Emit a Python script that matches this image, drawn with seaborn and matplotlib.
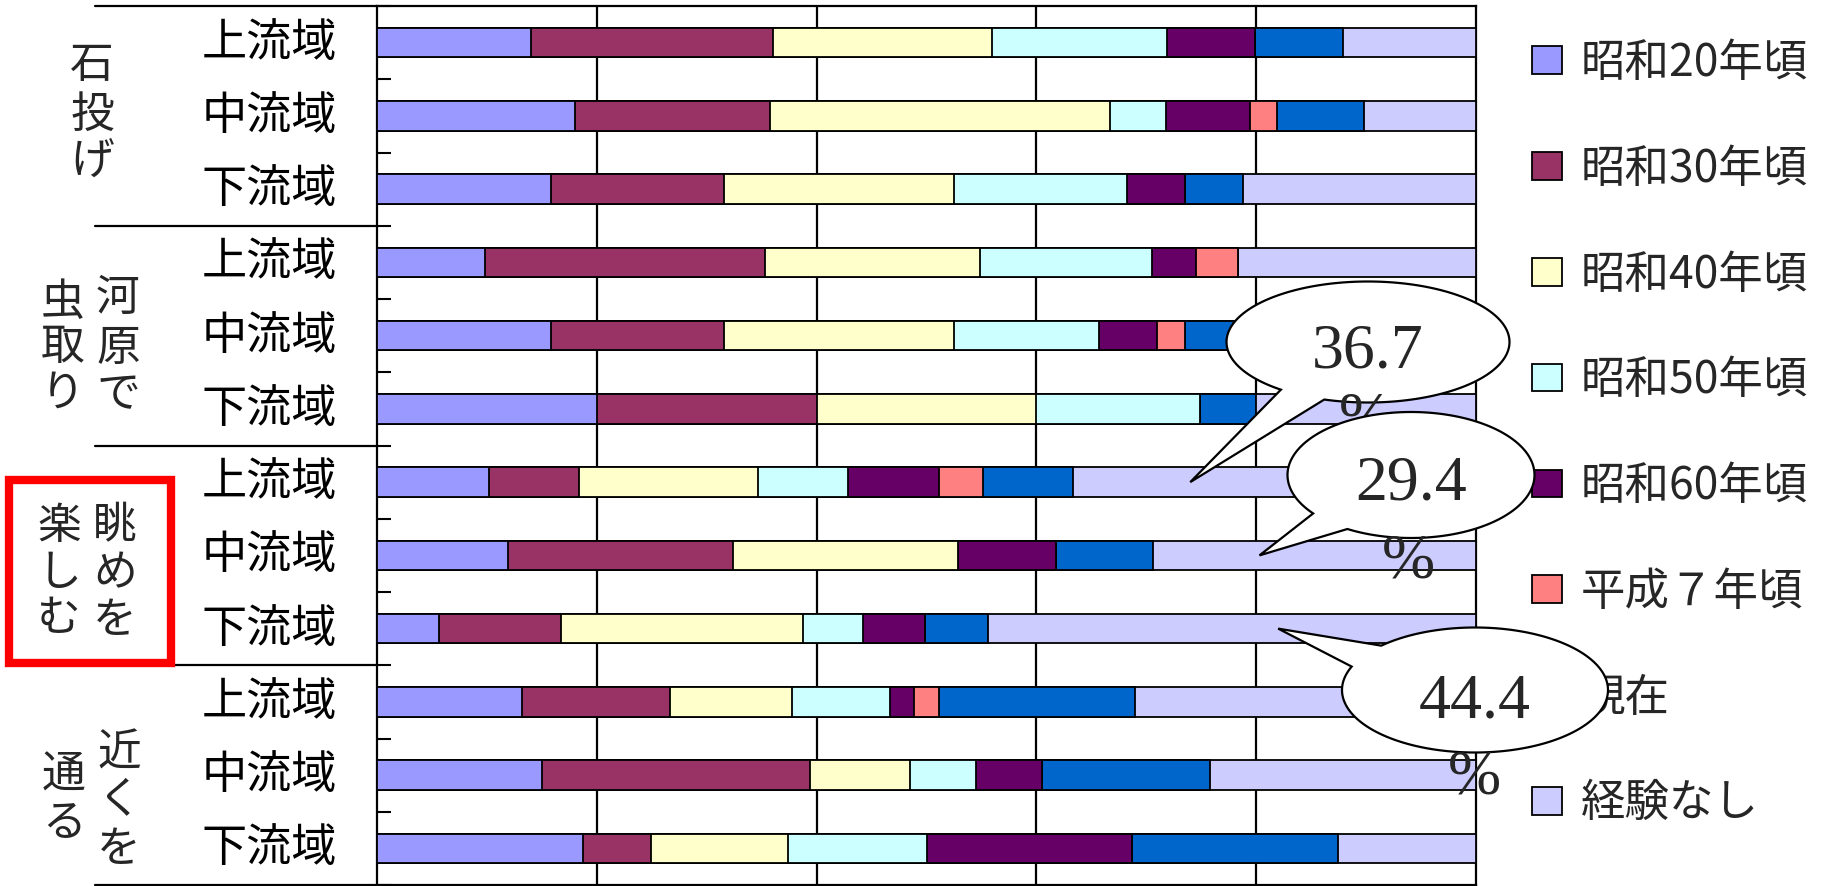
import numpy as np
import matplotlib
matplotlib.use('Agg')
import matplotlib.pyplot as plt
import matplotlib.patches as mpatches
from matplotlib.path import Path
from matplotlib.lines import Line2D
from matplotlib.transforms import blended_transform_factory
import seaborn as sns

# ---------------- data ----------------
groups = ['石投げ', '河原で虫取り', '眺めを楽しむ', '近くを通る']
areas = ['上流域', '中流域', '下流域']
periods = ['昭和20年頃', '昭和30年頃', '昭和40年頃', '昭和50年頃',
           '昭和60年頃', '平成７年頃', '現在', '経験なし']
colors = ['#9999FF', '#993366', '#FFFFCC', '#CCFFFF',
          '#660066', '#FF8080', '#0066CC', '#CCCCFF']

s20 = [14.0, 18.0, 15.8, 9.8, 15.8, 20.0, 10.2, 11.9, 5.6, 13.2, 15.0, 18.7]
s30 = [22.0, 17.8, 15.8, 25.5, 15.8, 20.0, 8.2, 20.5, 11.1, 13.5, 24.4, 6.2]
s40 = [20.0, 30.9, 20.9, 19.6, 20.9, 20.0, 16.3, 20.5, 22.1, 11.1, 9.1, 12.5]
s50 = [15.9, 5.1, 15.7, 15.6, 13.2, 14.9, 8.2, 0.0, 5.4, 8.9, 6.0, 12.6]
s60 = [8.0, 7.6, 5.3, 4.0, 5.3, 0.0, 8.2, 8.9, 5.7, 2.2, 6.0, 18.7]
h07 = [0.0, 2.5, 0.0, 3.8, 2.5, 0.0, 4.0, 0.0, 0.0, 2.2, 0.0, 0.0]
now = [8.0, 7.9, 5.3, 0.0, 9.0, 5.1, 8.2, 8.8, 5.7, 17.9, 15.3, 18.7]
nonexp = [12.1, 10.2, 21.2, 21.7, 17.5, 20.0, 36.7, 29.4, 44.4, 31.0, 24.2, 12.6]

series = [s20, s30, s40, s50, s60, h07, now, nonexp]
row_ids = [f'{g}-{a}' for g in groups for a in areas]
row_labels = [a for g in groups for a in areas]

# callouts: (row index, value to show)
callout_rows = [6, 7, 8]

# ---------------- figure ----------------
W, H = 1835, 886
sns.set_style('white')
plt.rcParams['font.family'] = ['Noto Sans CJK JP', 'DejaVu Sans']

fig = plt.figure(figsize=(W / 100, H / 100), dpi=100)
ax = fig.add_axes([377 / W, 1 / H, 1099 / W, 879 / H])

cum = np.cumsum(np.array(series), axis=0)
for i in range(len(series) - 1, -1, -1):
    sns.barplot(x=cum[i], y=row_ids, order=row_ids, orient='h',
                color=colors[i], saturation=1, edgecolor='black',
                linewidth=1.3, width=0.4, ax=ax, zorder=3)

ax.set_xlim(0, 100)
ax.set_xlabel('')
ax.set_ylabel('')
ax.set_xticks([20, 40, 60, 80])
ax.tick_params(axis='x', length=0, labelbottom=False)
ax.grid(axis='x', color='black', lw=1.6)
ax.grid(axis='y', visible=False)
ax.set_axisbelow(True)
ax.set_yticks([])
ax.set_yticks(np.arange(-0.5, len(row_ids), 1), minor=True)
ax.tick_params(axis='y', which='minor', direction='in', length=10,
               width=1.5, color='black', left=True)
for sp in ax.spines.values():
    sp.set_visible(True)
    sp.set_color('black')
    sp.set_linewidth(1.6)

# row labels
btr = blended_transform_factory(fig.transFigure, ax.transData)
for i, lab in enumerate(row_labels):
    ax.text(337 / W, i, lab, transform=btr, ha='right', va='center',
            fontsize=32.5, color='black')

# group separator lines
for yb in [-0.5, 2.5, 5.5, 8.5, 11.5]:
    ax.add_line(Line2D([95 / W, 377 / W], [yb, yb], transform=btr,
                       color='black', lw=1.6, clip_on=False))


def px(x, y):
    return x / W, 1 - y / H


# vertical group labels (column x, list of (char, y))
group_cols = [
    (92, [('石', 65), ('投', 115), ('げ', 162)]),
    (118, [('河', 298), ('原', 348), ('で', 394)]),
    (63, [('虫', 302), ('取', 347), ('り', 393)]),
    (115, [('眺', 525), ('め', 573), ('を', 620)]),
    (59, [('楽', 526), ('し', 573), ('む', 618)]),
    (119, [('近', 753), ('く', 800), ('を', 849)]),
    (64, [('通', 775), ('る', 823)]),
]
for cx, chars in group_cols:
    for ch, cy in chars:
        fig.text(*px(cx, cy), ch, ha='center', va='center', fontsize=31.5)

# red highlight box
fig.add_artist(mpatches.Rectangle(px(9, 663), 162 / W, 183 / H,
                                  transform=fig.transFigure, fill=False,
                                  edgecolor='#FF0000', lw=6, zorder=5))

# legend
handles = [mpatches.Patch(facecolor=c, edgecolor='black', lw=1.3)
           for c in colors]
fig.legend(handles, periods, loc='upper left',
           bbox_to_anchor=px(1532, 40), frameon=False, fontsize=32,
           labelspacing=1.345, handlelength=0.68, handleheight=0.58,
           handletextpad=0.42, borderpad=0, borderaxespad=0)


# callouts
def callout(cx, cy, w, h, a_lo, a_hi, tip_data, z):
    a, b = w / 2, h / 2
    cy_up = H - cy
    t = np.radians(np.linspace(a_hi, a_lo + 360, 200))
    xs = cx + a * np.cos(t)
    ys = cy_up + b * np.sin(t)
    tip = ax.transData.transform(tip_data)
    verts = list(zip(xs, ys)) + [tuple(tip), (xs[0], ys[0])]
    verts = [(vx / W, vy / H) for vx, vy in verts]
    codes = [Path.MOVETO] + [Path.LINETO] * (len(verts) - 2) + [Path.CLOSEPOLY]
    fig.add_artist(mpatches.PathPatch(Path(verts, codes), facecolor='white',
                                      edgecolor='black', lw=1.6,
                                      transform=fig.transFigure, zorder=z))


serif = ['Liberation Serif', 'DejaVu Serif']
specs = [
    # ellipse cx, cy, w, h, arc lo, arc hi, tip x, text pos, % pos
    (1368, 342, 283, 121, 232, 252, 74, (1368, 352), (1365, 420)),
    (1411, 475, 247, 126, 217.6, 239, 80.3, (1411, 484), (1408, 562)),
    (1475, 690, 266, 125, 134.8, 158, 82, (1475, 702), (1474, 778)),
]
z = 20
for r, (cx, cy, w, h, alo, ahi, tx, tpos, ppos) in zip(callout_rows, specs):
    callout(cx, cy, w, h, alo, ahi, (tx, r), z)
    fig.text(*px(*tpos), f'{nonexp[r]:.1f}', ha='center', va='center',
             fontsize=46, family=serif, zorder=z + 1)
    fig.text(*px(*ppos), '%', ha='center', va='center',
             fontsize=46, family=serif, zorder=z + 1)
    z += 3

fig.savefig('out.png', dpi=100)
